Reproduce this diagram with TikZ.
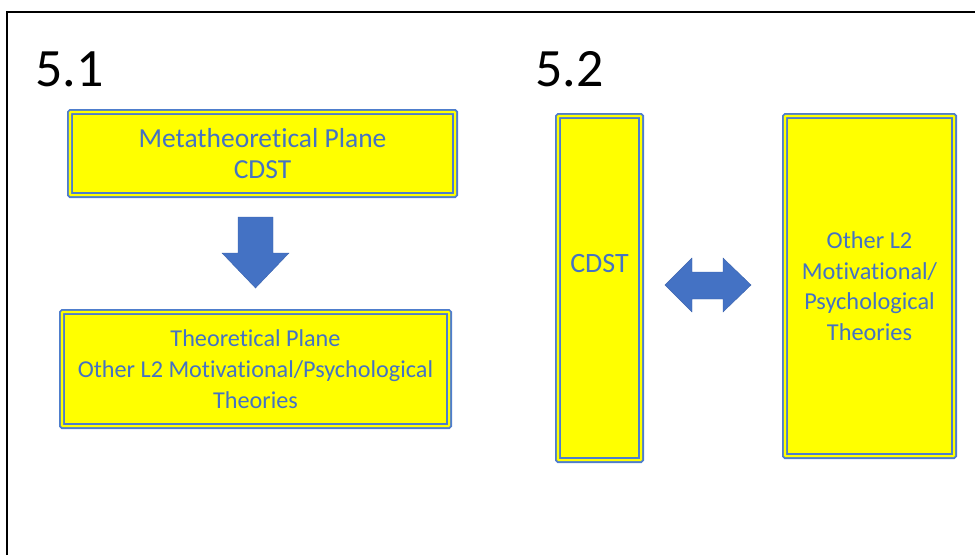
\documentclass[tikz,border=0pt]{standalone}
\usepackage{fontspec}
\setmainfont{Carlito}[Ligatures=CommonOff]
\usetikzlibrary{calc}
\definecolor{boxblue}{HTML}{4472C4}
\definecolor{edgeblue}{HTML}{4E7DCD}
\definecolor{arrowedge}{HTML}{3A62AC}
\definecolor{boxyellow}{HTML}{FFFF00}
\begin{document}
\begin{tikzpicture}[x=1pt,y=-1pt,
  planebox/.style={draw=edgeblue, line width=1.8pt, double=boxyellow,
    double distance=2.2pt, fill=boxyellow, rounded corners=0.8pt,
    inner sep=0pt, text=boxblue, align=center},
  blockarrow/.style={fill=boxblue, draw=arrowedge, line width=0.4pt, line join=miter},
  panellabel/.style={anchor=base west, inner sep=0pt, font=\fontsize{54}{60}\selectfont}]
\useasboundingbox (0,0) rectangle (975,555);
% frame edges
\draw[line width=2pt] (7,555) -- (7,12) -- (975,12);

% panel labels
\node[panellabel] (lab51) at (35,86) {5.1};
\node[panellabel] (lab52) at (535,86) {5.2};

% panel 5.1
\node[planebox, minimum width=385.2pt, minimum height=83.2pt,
  font=\fontsize{27.5}{31}\selectfont] (meta) at (262.5,153.5)
  {Metatheoretical Plane\\CDST};
\node[planebox, minimum width=387.2pt, minimum height=114.2pt,
  font=\fontsize{24.2}{31}\selectfont] (theo) at (255.5,369)
  {Theoretical Plane\\Other L2 Motivational/Psychological\\Theories};
\coordinate (dn) at (255.5,217);
\fill[blockarrow] (dn) ++(-17.5,0) -- ++(35,0) -- ++(0,36) -- ++(16,0)
  -- ++(-33.5,35) -- ++(-33.5,-35) -- ++(16,0) -- cycle;

% panel 5.2
\node[planebox, minimum width=83.2pt, minimum height=344.2pt] (cdst) at (599.5,288) {};
\node[text=boxblue, inner sep=0pt, font=\fontsize{28}{31}\selectfont] (cdsttext)
  at ($(cdst.center)+(0,-24)$) {CDST};
\node[planebox, minimum width=169.2pt, minimum height=340.2pt,
  font=\fontsize{24.3}{30.5}\selectfont] (other) at (869.5,286)
  {Other L2\\Motivational/\\Psychological\\Theories};
\coordinate (lr) at (665,285);
\fill[blockarrow] (lr) -- ++(27,-27) -- ++(0,14) -- ++(31,0) -- ++(0,-14)
  -- ++(28,27) -- ++(-28,27) -- ++(0,-13) -- ++(-31,0) -- ++(0,13) -- cycle;
\end{tikzpicture}
\end{document}
